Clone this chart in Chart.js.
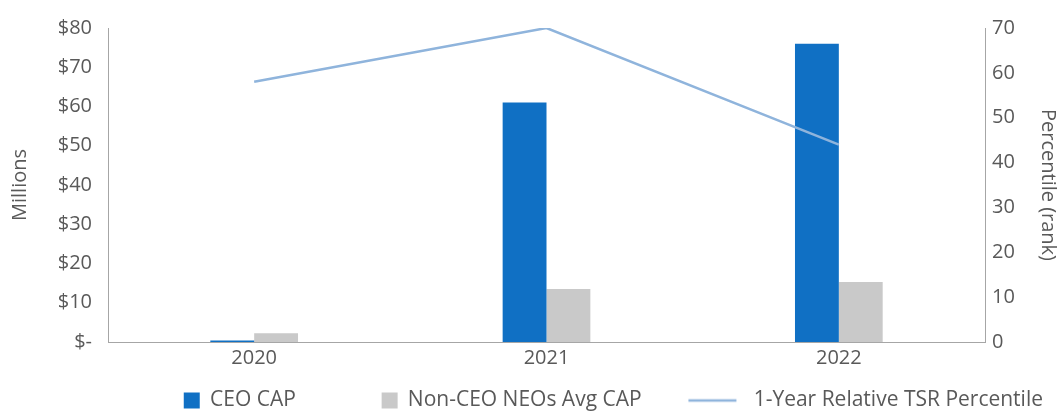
<!DOCTYPE html>
<html lang="en">
<head>
  <meta charset="utf-8" />
  <title>CEO CAP vs 1-Year Relative TSR</title>
  <style>
    html, body { margin: 0; padding: 0; background: #fff; overflow: hidden; }
    .chart-container { position: relative; width: 1061px; height: 421px; }
  </style>
</head>
<body>
  <div class="chart-container"><canvas id="capChart"></canvas></div>

  <script src="https://cdn.jsdelivr.net/npm/chart.js@4.4.4/dist/chart.umd.min.js"></script>
  <script>
    // data
    const years = ['2020', '2021', '2022'];
    const ceoCap = [0.4, 61, 76];              // $ millions
    const neoAvgCap = [2.2, 13.5, 15.3];       // $ millions
    const tsrPercentile = [58, 70, 44];        // rank
    const dollarTicks = ['$-', '$10', '$20', '$30', '$40', '$50', '$60', '$70', '$80'];
    const rankTicks = ['0', '10', '20', '30', '40', '50', '60', '70'];

    const CEO_BLUE = '#1070c4';
    const NEO_GREY = '#c9c9c9';
    const TSR_BLUE = '#8fb4dc';
    const TEXT_GREY = '#595959';
    const AXIS_GREY = '#a6a6a6';

    Chart.defaults.font.family = "'Open Sans', 'Liberation Sans', sans-serif";
    Chart.defaults.font.size = 20;
    Chart.defaults.color = TEXT_GREY;

    // small canvases used as legend markers
    function legendIcon(w, draw) {
      const c = document.createElement('canvas');
      c.width = w;
      c.height = 20;
      draw(c.getContext('2d'));
      return c;
    }
    const icons = [
      legendIcon(86, ctx => { ctx.fillStyle = CEO_BLUE; ctx.fillRect(69, 2, 16, 16); }),
      legendIcon(86, ctx => { ctx.fillStyle = NEO_GREY; ctx.fillRect(69, 2, 16, 16); }),
      legendIcon(72, ctx => {
        ctx.strokeStyle = TSR_BLUE;
        ctx.lineWidth = 2.5;
        ctx.beginPath();
        ctx.moveTo(23, 10);
        ctx.lineTo(71, 10);
        ctx.stroke();
      })
    ];

    const ctx = document.getElementById('capChart').getContext('2d');
    const capChart = new Chart(ctx, {
      type: 'bar',
      data: {
        labels: years,
        datasets: [
          {
            label: 'CEO CAP',
            data: ceoCap,
            backgroundColor: CEO_BLUE,
            yAxisID: 'y',
            order: 1
          },
          {
            label: 'Non-CEO NEOs Avg CAP',
            data: neoAvgCap,
            backgroundColor: NEO_GREY,
            yAxisID: 'y',
            order: 1
          },
          {
            type: 'line',
            label: '1-Year Relative TSR Percentile',
            data: tsrPercentile,
            borderColor: TSR_BLUE,
            backgroundColor: TSR_BLUE,
            borderWidth: 2.5,
            pointRadius: 0,
            tension: 0,
            yAxisID: 'y1',
            order: 0
          }
        ]
      },
      options: {
        responsive: true,
        maintainAspectRatio: false,
        animation: false,
        layout: { padding: { top: 26, left: 0, right: 0, bottom: 0 } },
        datasets: {
          bar: { categoryPercentage: 0.3, barPercentage: 1.0 }
        },
        plugins: {
          tooltip: { enabled: false },
          legend: {
            position: 'bottom',
            align: 'end',
            labels: {
              usePointStyle: true,
              pointStyleWidth: 83.5,
              padding: 18,
              color: TEXT_GREY,
              font: { size: 21 },
              generateLabels: chart => chart.data.datasets.map((ds, i) => ({
                text: ds.label,
                pointStyle: icons[i],
                datasetIndex: i,
                hidden: !chart.isDatasetVisible(i),
                fontColor: TEXT_GREY,
                lineWidth: 0
              }))
            }
          }
        },
        scales: {
          x: {
            offset: true,
            grid: { display: false, drawTicks: false },
            border: { display: true, color: AXIS_GREY, width: 1 },
            ticks: { padding: 4, color: TEXT_GREY },
            afterFit: s => { s.height = 30; }
          },
          y: {
            position: 'left',
            min: 0,
            max: 80,
            grid: { display: false, drawTicks: false },
            border: { display: true, color: AXIS_GREY, width: 1 },
            ticks: {
              stepSize: 10,
              padding: 16,
              color: TEXT_GREY,
              callback: (v, i) => dollarTicks[i]
            },
            title: { display: true, text: 'Millions', color: TEXT_GREY, padding: { top: 8, bottom: 0 } },
            afterFit: s => { s.width = 108; }
          },
          y1: {
            position: 'right',
            min: 0,
            max: 70,
            grid: { display: false, drawTicks: false },
            border: { display: true, color: AXIS_GREY, width: 1 },
            ticks: {
              stepSize: 10,
              padding: 7,
              color: TEXT_GREY,
              callback: (v, i) => rankTicks[i]
            },
            title: { display: true, text: 'Percentile (rank)', color: TEXT_GREY, padding: { top: 1, bottom: 0 } },
            afterFit: s => { s.width = 76; }
          }
        }
      }
    });
  </script>
</body>
</html>
